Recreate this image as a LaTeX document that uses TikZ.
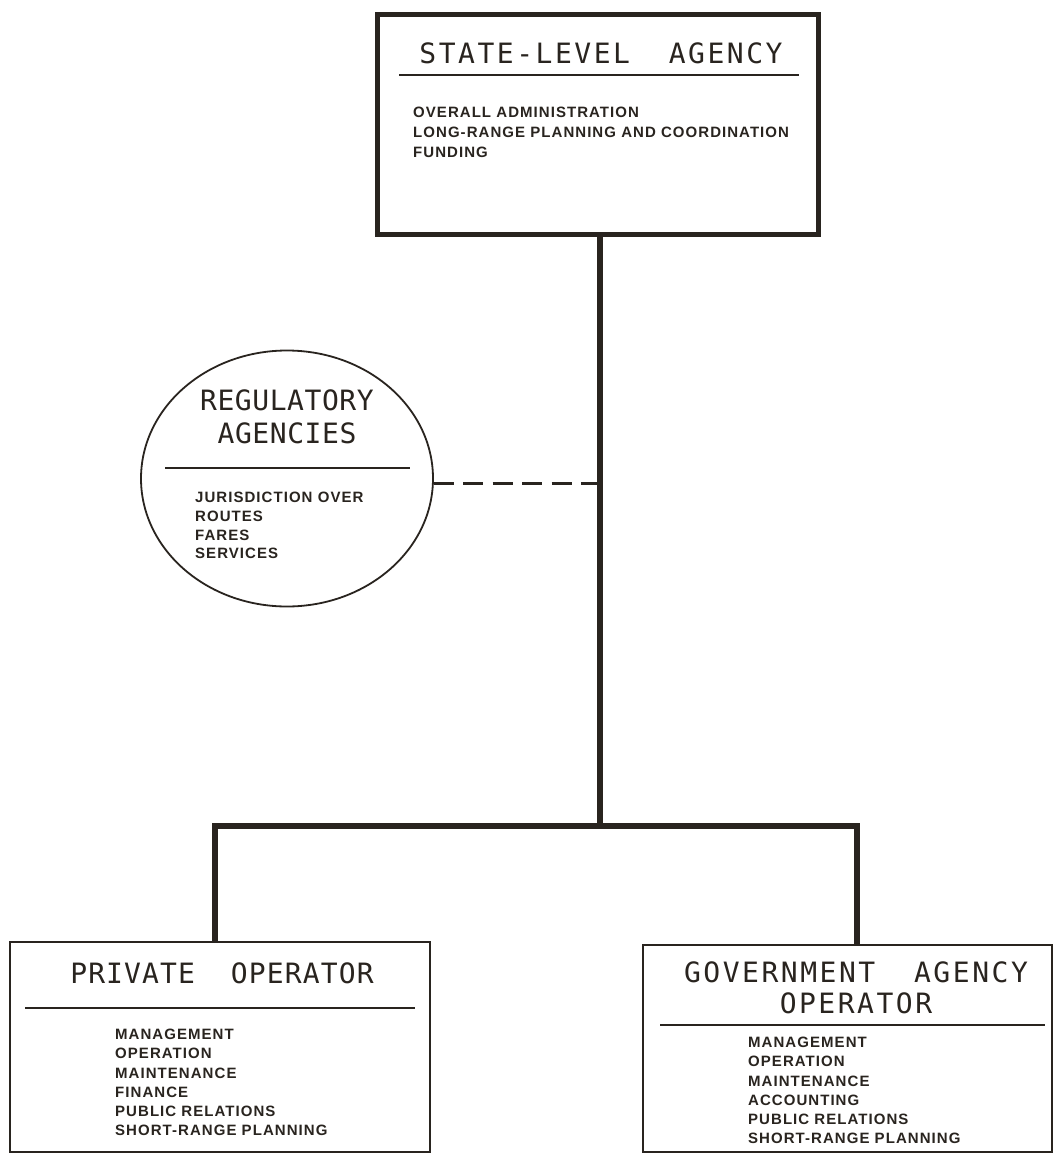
\documentclass[tikz,border=0pt]{standalone}
\usepackage{fontspec}
\usetikzlibrary{shapes.geometric,calc}
\newfontfamily\ttlfont{DejaVu Sans Mono}
\newfontfamily\bodyfontfam[LetterSpace=7]{Liberation Sans Bold}
\definecolor{ink}{rgb}{0.16,0.14,0.12}
\tikzset{
  x=1pt,y=-1pt,
  boxthick/.style={draw=ink,line width=5pt,rectangle,inner sep=0pt},
  boxthin/.style={draw=ink,line width=2.6pt,rectangle,inner sep=0pt},
  ellbox/.style={draw=ink,line width=1.8pt,ellipse,inner sep=0pt},
  conn/.style={draw=ink,line width=6pt,line join=miter},
  dashconn/.style={draw=ink,line width=3.5pt,dash pattern=on 20pt off 9.4pt},
  rulestyle/.style={draw=ink,line width=1.5pt},
  ttl/.style={inner sep=0pt,text=ink,align=center},
  bodytxt/.style={inner sep=0pt,text=ink,align=left,anchor=north west},
}
\begin{document}
\begin{tikzpicture}
\useasboundingbox[fill=white] (0,0) rectangle (1054,1154);
% boxes
\node[boxthick,minimum width=441pt,minimum height=220pt] (state) at (597.5,124) {};
\node[ellbox,minimum width=292pt,minimum height=256pt] (reg) at (287,478.5) {};
\node[boxthin,minimum width=420pt,minimum height=210pt] (priv) at (220,1047) {};
\node[boxthin,minimum width=409pt,minimum height=207pt] (gov) at (847.5,1048.5) {};
% connector coordinates
\coordinate (j) at (600,826);
\coordinate (jl) at (215,826);
\coordinate (jr) at (857,826);
\draw[conn] (state.south -| j) -- (j);
\draw[conn] (priv.north -| jl) -- (jl) -- (jr) -- (gov.north -| jr);
\draw[dashconn] ($(reg.east)+(0,5)$) -- ($(reg.east -| j)+(0,5)$);
% state texts
\node[ttl,anchor=base,font={\ttlfont\addfontfeatures{LetterSpace=9}\fontsize{28}{33}\selectfont}] (stt) at (601,63) {STATE-LEVEL\ \ AGENCY};
\draw[rulestyle] (399,75) coordinate (sr1) -- (799,75) coordinate (sr2);
\node[bodytxt,font={\bodyfontfam\fontsize{15}{20}\selectfont}] (stb) at (413,107) {OVERALL ADMINISTRATION\\LONG-RANGE PLANNING AND COORDINATION\\FUNDING};
% regulatory texts
\node[ttl,anchor=north,font={\ttlfont\addfontfeatures{LetterSpace=2}\fontsize{28}{33}\selectfont}] (rgt) at (287,390) {REGULATORY\\AGENCIES};
\draw[rulestyle] (165,468) coordinate (rr1) -- (410,468) coordinate (rr2);
\node[bodytxt,font={\bodyfontfam\fontsize{15}{18.7}\selectfont}] (rgb) at (195,492) {JURISDICTION OVER\\ROUTES\\FARES\\SERVICES};
% private texts
\node[ttl,anchor=base,font={\ttlfont\addfontfeatures{LetterSpace=4}\fontsize{28}{33}\selectfont}] (pvt) at (222,983) {PRIVATE\ \ OPERATOR};
\draw[rulestyle] (25,1008) coordinate (pr1) -- (415,1008) coordinate (pr2);
\node[bodytxt,font={\bodyfontfam\fontsize{15}{19.2}\selectfont}] (pvb) at (115,1029) {MANAGEMENT\\OPERATION\\MAINTENANCE\\FINANCE\\PUBLIC RELATIONS\\SHORT-RANGE PLANNING};
% government texts
\node[ttl,anchor=north,font={\ttlfont\addfontfeatures{LetterSpace=9}\fontsize{28}{31}\selectfont}] (gvt) at (856,962) {GOVERNMENT\ \ AGENCY\\OPERATOR};
\draw[rulestyle] (660,1025) coordinate (gr1) -- (1045,1025) coordinate (gr2);
\node[bodytxt,font={\bodyfontfam\fontsize{15}{19.2}\selectfont}] (gvb) at (748,1037) {MANAGEMENT\\OPERATION\\MAINTENANCE\\ACCOUNTING\\PUBLIC RELATIONS\\SHORT-RANGE PLANNING};
\end{tikzpicture}
\end{document}
